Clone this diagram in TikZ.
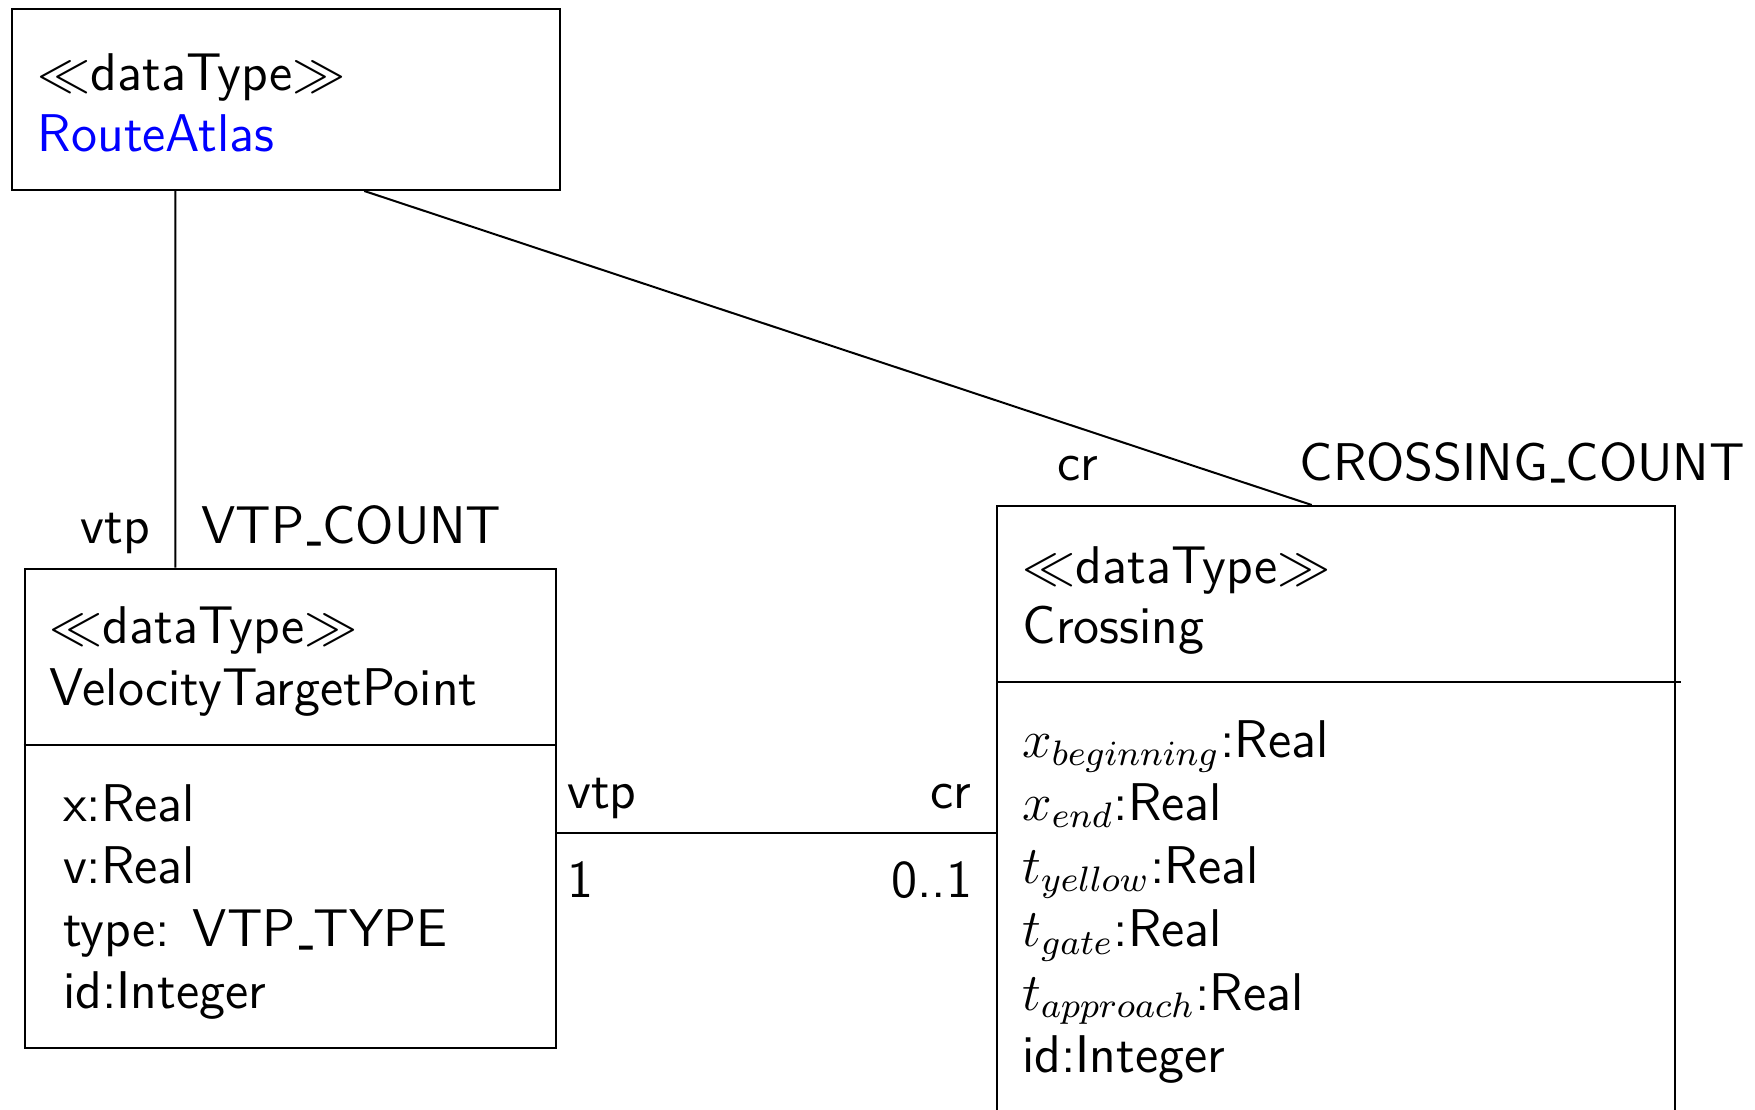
\documentclass[tikz,border=0pt]{standalone}
\usepackage{graphicx}
\usetikzlibrary{calc}
% short underscore sitting on the baseline
\newcommand{\lowbar}{\kern.06em\raisebox{0.1em}{\scalebox{0.4}[1]{\_}}\kern.02em}
\begin{document}
\begin{tikzpicture}[
  x=1pt, y=1pt,
  box/.style={draw, line width=0.4pt, rectangle, inner sep=0pt, anchor=north west},
  txt/.style={inner sep=0pt, scale=0.885, font=\fontsize{12}{14.5}\selectfont\sffamily},
  lt/.style={txt, anchor=base west},
  rt/.style={txt, anchor=base east},
  link/.style={draw, line width=0.4pt},
]
\useasboundingbox (0,0) rectangle (351,-222);

% class boxes
\node[box, minimum width=109.6pt, minimum height=36.27pt] (atlas) at (2.14,-1.53) {};
\node[box, minimum width=106.26pt, minimum height=95.92pt] (vtp) at (4.74,-113.54) {};
\node[box, minimum width=135.6pt, minimum height=130pt] (cross) at (199.2,-101) {};

% compartment separators
\draw ([yshift=-35.46pt]vtp.north west) -- ([yshift=-35.46pt]vtp.north east);
\draw ([yshift=-35.34pt]cross.north west) -- ([xshift=0.9pt,yshift=-35.34pt]cross.north east);

% RouteAtlas
\node[lt] (atlasst) at (7.4,-18.06) {$\ll$dataType$\gg$};
\node[lt, text=blue] (atlasname) at (7.4,-30.24) {RouteAtlas};

% VelocityTargetPoint
\node[lt] (vtpst) at (9.8,-128.66) {$\ll$dataType$\gg$};
\node[lt] (vtpname) at (9.8,-141.2) {VelocityTargetPoint};
\node[lt] (vtpa1) at (12.45,-164.2) {x:Real};
\node[lt] (vtpa2) at (12.45,-176.66) {v:Real};
\node[lt] (vtpa3) at (12.45,-189.34) {type: VTP\lowbar TYPE};
\node[lt] (vtpa4) at (12.45,-201.66) {id:Integer};

% Crossing
\node[lt] (crst) at (204.4,-116.66) {$\ll$dataType$\gg$};
\node[lt] (crname) at (204.4,-128.8) {Crossing};
\node[lt] (cra1) at (204.3,-151.46) {$x_{beginning}$:Real};
\node[lt] (cra2) at (204.3,-164.0) {$x_{end}$:Real};
\node[lt] (cra3) at (204.3,-176.66) {$t_{yellow}$:Real};
\node[lt] (cra4) at (204.3,-189.34) {$t_{gate}$:Real};
\node[lt] (cra5) at (204.3,-202.0) {$t_{approach}$:Real};
\node[lt] (cra6) at (204.3,-214.54) {id:Integer};

% associations
\draw[link] ([xshift=32.92pt]atlas.south west) -- ([xshift=30.32pt]vtp.north west);
\draw[link] ([xshift=70.72pt]atlas.south west) -- ([xshift=63.14pt]cross.north west);
\draw[link] ([yshift=-53pt]vtp.north east) -- ([yshift=-65.54pt]cross.north west);

% association end labels
\node[rt] (l1) at (30.2,-108.66) {vtp};
\node[lt] (l2) at (40.15,-108.66) {VTP\lowbar COUNT};
\node[lt] (l3) at (211.4,-96) {cr};
\node[lt] (l4) at (259.8,-96) {CROSSING\lowbar COUNT};
\node[lt] (l5) at (113.3,-161.7) {vtp};
\node[rt] (l6) at (194.35,-161.7) {cr};
\node[lt] (l7) at (113.3,-179.4) {1};
\node[rt] (l8) at (194.6,-179.4) {0..1};
\end{tikzpicture}
\end{document}
